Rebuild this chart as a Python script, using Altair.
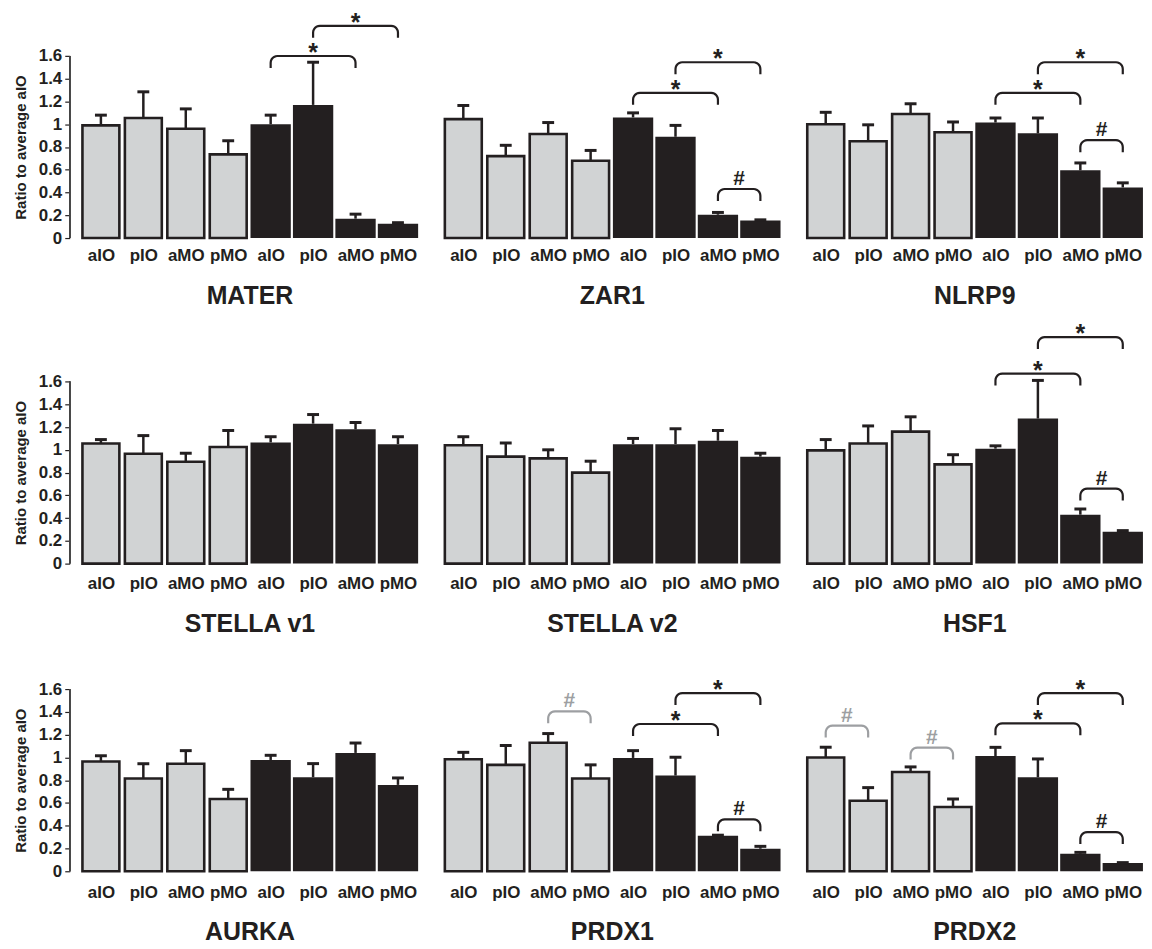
import altair as alt
import pandas as pd
import numpy as np

LABELS = ["aIO", "pIO", "aMO", "pMO", "aIO", "pIO", "aMO", "pMO"]
GROUPS = ["light", "light", "light", "light", "dark", "dark", "dark", "dark"]
Y_TICKS = [0, 0.2, 0.4, 0.6, 0.8, 1, 1.2, 1.4, 1.6]
Y_TITLE = "Ratio to average aIO"

GENES = ["MATER", "ZAR1", "NLRP9", "STELLA v1", "STELLA v2", "HSF1", "AURKA", "PRDX1", "PRDX2"]

MATER_MEAN = [0.99, 1.055, 0.96, 0.735, 1.00, 1.17, 0.17, 0.125]
MATER_ERR = [0.09, 0.23, 0.175, 0.12, 0.08, 0.375, 0.04, 0.01]
ZAR1_MEAN = [1.045, 0.72, 0.915, 0.68, 1.06, 0.89, 0.205, 0.155]
ZAR1_ERR = [0.12, 0.095, 0.10, 0.09, 0.04, 0.10, 0.02, 0.005]
NLRP9_MEAN = [1.0, 0.85, 1.09, 0.93, 1.015, 0.92, 0.595, 0.445]
NLRP9_ERR = [0.105, 0.145, 0.09, 0.09, 0.04, 0.135, 0.065, 0.04]
STELLA1_MEAN = [1.055, 0.965, 0.895, 1.025, 1.065, 1.23, 1.18, 1.05]
STELLA1_ERR = [0.035, 0.16, 0.075, 0.145, 0.05, 0.08, 0.06, 0.065]
STELLA2_MEAN = [1.04, 0.94, 0.925, 0.80, 1.05, 1.05, 1.08, 0.94]
STELLA2_ERR = [0.075, 0.12, 0.075, 0.10, 0.05, 0.135, 0.09, 0.03]
HSF1_MEAN = [0.995, 1.055, 1.16, 0.872, 1.01, 1.275, 0.43, 0.28]
HSF1_ERR = [0.095, 0.155, 0.13, 0.085, 0.025, 0.335, 0.05, 0.01]
AURKA_MEAN = [0.965, 0.815, 0.945, 0.635, 0.978, 0.826, 1.04, 0.759]
AURKA_ERR = [0.05, 0.13, 0.115, 0.085, 0.041, 0.12, 0.087, 0.061]
PRDX1_MEAN = [0.985, 0.935, 1.13, 0.815, 0.996, 0.841, 0.312, 0.198]
PRDX1_ERR = [0.06, 0.17, 0.08, 0.12, 0.064, 0.161, 0.005, 0.021]
PRDX2_MEAN = [1.0, 0.62, 0.872, 0.565, 1.013, 0.826, 0.154, 0.073]
PRDX2_ERR = [0.09, 0.115, 0.045, 0.07, 0.076, 0.161, 0.012, 0.003]

MEANS = [MATER_MEAN, ZAR1_MEAN, NLRP9_MEAN, STELLA1_MEAN, STELLA2_MEAN,
         HSF1_MEAN, AURKA_MEAN, PRDX1_MEAN, PRDX2_MEAN]
ERRS = [MATER_ERR, ZAR1_ERR, NLRP9_ERR, STELLA1_ERR, STELLA2_ERR,
        HSF1_ERR, AURKA_ERR, PRDX1_ERR, PRDX2_ERR]

# significance brackets: (first bar, last bar, height, symbol, colour kind)
MATER_BR = [(4, 6, 1.60, "*", "k"), (5, 7, 1.865, "*", "k")]
ZAR1_BR = [(4, 6, 1.276, "*", "k"), (5, 7, 1.545, "*", "k"), (6, 7, 0.431, "#", "k")]
NLRP9_BR = [(4, 6, 1.276, "*", "k"), (5, 7, 1.545, "*", "k"), (6, 7, 0.86, "#", "k")]
STELLA1_BR = []
STELLA2_BR = []
HSF1_BR = [(4, 6, 1.67, "*", "k"), (5, 7, 1.99, "*", "k"), (6, 7, 0.659, "#", "k")]
AURKA_BR = []
PRDX1_BR = [(2, 3, 1.405, "#", "g"), (4, 6, 1.294, "*", "k"), (5, 7, 1.566, "*", "k"),
            (6, 7, 0.456, "#", "k")]
PRDX2_BR = [(0, 1, 1.28, "#", "g"), (2, 3, 1.087, "#", "g"), (4, 6, 1.30, "*", "k"),
            (5, 7, 1.566, "*", "k"), (6, 7, 0.344, "#", "k")]
BRACKETS = [MATER_BR, ZAR1_BR, NLRP9_BR, STELLA1_BR, STELLA2_BR, HSF1_BR,
            AURKA_BR, PRDX1_BR, PRDX2_BR]

INK = "#231f20"
LIGHT = "#d1d3d4"
GREY_MARK = "#9d9fa2"
COLS = {"k": INK, "g": GREY_MARK}

FONT = "Liberation Sans"
W = 341
PPU = 114.3          # pixels per y unit
ROW_H = [225, 246, 226]
LABEL_PAD = [10, 12, 13]
DROP = 0.105
RX = 0.16
RY = 0.06

label_expr = "[" + ",".join("'%s'" % l for l in LABELS) + "][floor(datum.value)]"


def panel(k, show_y):
    gene = GENES[k]
    row = k // 3
    H = ROW_H[row]
    dmax = H / PPU
    df = pd.DataFrame({"i": list(range(8)), "label": LABELS, "group": GROUPS,
                       "mean": MEANS[k], "err": ERRS[k]})
    xs = alt.Scale(domain=[0, 8], nice=False, zero=False)
    ys = alt.Scale(domain=[0, dmax], nice=False, zero=True)
    xaxis = alt.Axis(values=[i + 0.5 for i in range(8)], labelExpr=label_expr,
                     domain=False, ticks=False, tickSize=0, grid=False,
                     labelPadding=LABEL_PAD[row], labelFontSize=17, labelFontWeight="bold",
                     labelAngle=0, labelFlush=False, labelOverlap=False,
                     labelColor=INK, title=gene, titleFontSize=25,
                     titleFontWeight="bold", titlePadding=20, titleColor=INK)
    if show_y:
        yaxis = alt.Axis(values=Y_TICKS, format="~g", offset=10, domain=False,
                         ticks=True, tickSize=5, tickColor=INK, tickWidth=1.2,
                         grid=False, labelPadding=3, labelFontSize=17,
                         labelFontWeight="bold", labelColor=INK, title=Y_TITLE,
                         titleFontSize=15, titleFontWeight="bold", titleColor=INK,
                         titlePadding=10, titleY=H - 0.8 * PPU)
    else:
        yaxis = None

    def X(f):
        return alt.X(f, type="quantitative", scale=xs, axis=xaxis)

    def Y(f):
        return alt.Y(f, type="quantitative", scale=ys, axis=yaxis)

    base = alt.Chart(df).transform_calculate(
        top="datum.mean + datum.err",
        base0="0",
        c="datum.i + 0.5",
        cl="datum.i + 0.5 - 0.14",
        cr="datum.i + 0.5 + 0.14",
        lx0="datum.i + 0.065",
        lx1="datum.i + 0.935",
        dx0="datum.i + 0.025",
        dx1="datum.i + 0.975",
    )
    light = base.transform_filter("datum.group == 'light'").mark_rect(
        fill=LIGHT, stroke=INK, strokeWidth=2.6).encode(
        x=X("lx0"), x2="lx1", y=Y("mean"), y2="base0:Q")
    dark = base.transform_filter("datum.group == 'dark'").mark_rect(
        fill=INK, strokeWidth=0).encode(
        x=X("dx0"), x2="dx1", y=Y("mean"), y2="base0:Q")
    stem = base.mark_rule(color=INK, strokeWidth=2.5).encode(
        x=X("c"), y=Y("mean"), y2="top")
    cap = base.mark_rule(color=INK, strokeWidth=3).encode(
        x=X("cl"), x2="cr", y=Y("top"))
    layers = [light, dark, stem, cap]

    brs = BRACKETS[k]
    if brs:
        pts = []
        labs = []
        for b, (s, e, top, sym, ck) in enumerate(brs):
            a, z = s + 0.5, e + 0.5
            path = [(a, top - DROP)]
            for ang in np.linspace(np.pi, np.pi / 2, 7):
                path.append((a + RX + RX * np.cos(ang), top - RY + RY * np.sin(ang)))
            for ang in np.linspace(np.pi / 2, 0, 7):
                path.append((z - RX + RX * np.cos(ang), top - RY + RY * np.sin(ang)))
            path.append((z, top - DROP))
            for j, (px, py) in enumerate(path):
                pts.append({"bid": b, "ord": j, "bx": px, "by": py, "col": COLS[ck]})
            labs.append({"tx": (a + z) / 2, "ty": top, "sym": sym, "col": COLS[ck]})
        pdf = pd.DataFrame(pts)
        ldf = pd.DataFrame(labs)
        lines = alt.Chart(pdf).mark_line(strokeWidth=2.2).encode(
            x=X("bx"), y=Y("by"), detail="bid:N", order="ord:Q",
            color=alt.Color("col:N", scale=None))
        stars = alt.Chart(ldf).transform_filter("datum.sym == '*'").mark_text(
            fontSize=25, fontWeight="bold", baseline="alphabetic", dy=5,
            font=FONT).encode(
            x=X("tx"), y=Y("ty"), text="sym:N", color=alt.Color("col:N", scale=None))
        hashes = alt.Chart(ldf).transform_filter("datum.sym == '#'").mark_text(
            fontSize=21, fontWeight="bold", baseline="alphabetic", dy=-4,
            font=FONT).encode(
            x=X("tx"), y=Y("ty"), text="sym:N", color=alt.Color("col:N", scale=None))
        layers += [lines, stars, hashes]

    if show_y:
        axis_line = alt.Chart(df).mark_rule(color="#444444", strokeWidth=1.2).encode(
            x=alt.value(-10), y=alt.Y(datum=0, scale=ys, axis=yaxis),
            y2=alt.datum(1.6))
        layers.append(axis_line)

    return alt.layer(*layers).properties(width=W, height=H)


rows = []
for r in range(3):
    rows.append(alt.hconcat(*[panel(r * 3 + c, c == 0) for c in range(3)], spacing=23))

chart = alt.vconcat(*rows, spacing=10).properties(
    padding={"left": 5, "top": 0, "right": 0, "bottom": 0}
).configure(font=FONT).configure_view(strokeWidth=0, stroke="transparent")

chart.save("out.html", embed_options={"renderer": "svg", "actions": False})
